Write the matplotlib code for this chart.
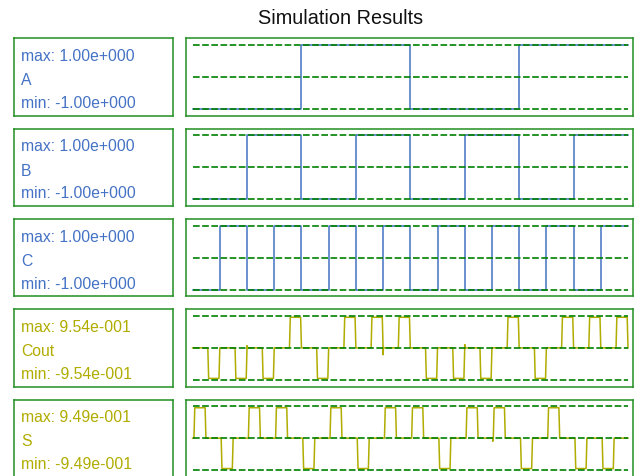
import bisect
import matplotlib
matplotlib.use("Agg")
import matplotlib.pyplot as plt

plt.rcParams['font.family'] = ['Liberation Sans', 'DejaVu Sans']

# Waveform data, one entry per time unit (16 units across)
names = ["A", "B", "C", "Cout", "S"]
A_levels = [-1, -1, -1, -1, 1, 1, 1, 1, -1, -1, -1, -1, 1, 1, 1, 1]
B_levels = [-1, -1, 1, 1, -1, -1, 1, 1, -1, -1, 1, 1, -1, -1, 1, 1]
C_levels = [-1, 1, -1, 1, -1, 1, -1, 1, -1, 1, -1, 1, -1, 1, -1, 1]

# pulse signs for the analog outputs
cout_signs = [-1, -1, -1, 1, -1, 1, 1, 1, -1, -1, -1, 1, -1, 1, 1, 1]
s_signs = [1, -1, 1, 1, -1, 1, -1, 1, 1, -1, 1, 1, -1, 1, -1, -1]
cout_amp = 0.954
s_amp = 0.949
cout_window = (0.56, 1.0)   # pulse position inside each unit
s_window = (0.05, 0.49)
cout_glitches = [(2.0, 0.06), (7.0, -0.21), (10.0, 0.10)]
s_glitches = [(11.03, -0.09)]

max_labels = ["1.00e+000", "1.00e+000", "1.00e+000", "9.54e-001", "9.49e-001"]
min_labels = ["-1.00e+000", "-1.00e+000", "-1.00e+000", "-9.54e-001", "-9.49e-001"]

BLUE = "#4472c4"
OLIVE = "#b0ac00"
BORDER = "#228f22"
GRID = "#008000"
colors = [BLUE, BLUE, BLUE, OLIVE, OLIVE]

W, H = 635, 476
RAMP = 0.03


def pulse_wave(signs, amp, window, glitches):
    t, y = [0.0], [0.0]
    for k, s in enumerate(signs):
        a, b = window
        t += [k + a, k + a + RAMP, k + b - RAMP, k + b]
        y += [0, s * amp, s * amp, 0]
    t.append(len(signs))
    y.append(0)
    for tg, g in glitches:
        i = bisect.bisect_right(t, tg)
        t[i:i] = [tg, tg, tg]
        y[i:i] = [0, g, 0]
    return t, y, "default"


def step_wave(levels):
    t = list(range(len(levels) + 1))
    return t, levels + [levels[-1]], "steps-post"


waves = [step_wave(A_levels), step_wave(B_levels), step_wave(C_levels),
         pulse_wave(cout_signs, cout_amp, cout_window, cout_glitches),
         pulse_wave(s_signs, s_amp, s_window, s_glitches)]


def rect(x0, y0, x1, y1):
    # pixel box (top-left origin) -> figure fraction rect
    return [x0 / W, 1 - y1 / H, (x1 - x0) / W, (y1 - y0) / H]


fig = plt.figure(figsize=(W / 100, H / 100), dpi=100)
fig.text(341 / W, 1 - 18 / H, "Simulation Results", ha="center", va="center",
         fontsize=14.3, color="#111111")

row_top = 38.3
row_h = 77.3
row_step = 90.3

for i, name in enumerate(names):
    top = row_top + i * row_step
    bot = top + row_h

    # label box
    lab = fig.add_axes(rect(13.5, top, 173.3, bot))
    lab.set_xticks([])
    lab.set_yticks([])
    for sp in lab.spines.values():
        sp.set_color(BORDER)
        sp.set_linewidth(1.1)
    for txt, dy in [("max: " + max_labels[i], 22.7), (name, 47.0),
                    ("min: " + min_labels[i], 69.7)]:
        lab.text(7.5 / 159.8, 1 - dy / row_h, txt, transform=lab.transAxes,
                 ha="left", va="baseline", fontsize=11.3, color=colors[i])

    # waveform box
    ax = fig.add_axes(rect(186.3, top, 633.3, bot))
    ax.set_xticks([])
    ax.set_yticks([])
    for sp in ax.spines.values():
        sp.set_color(BORDER)
        sp.set_linewidth(1.1)
    ax.set_xlim(-6.3 / 27.25, 16 + 5.3 / 27.25)
    ax.set_ylim(-1 - 6.6 / 32, 1 + 6.6 / 32)
    t, y, style = waves[i]
    ax.plot(t, y, color=colors[i], lw=1.1, drawstyle=style, zorder=2)
    for g in (-1, 0, 1):
        ax.plot([0, 16], [g, g], color=GRID, lw=1.2, ls=(0, (4.0, 1.5)), zorder=3)

fig.savefig("out.png", dpi=100)
